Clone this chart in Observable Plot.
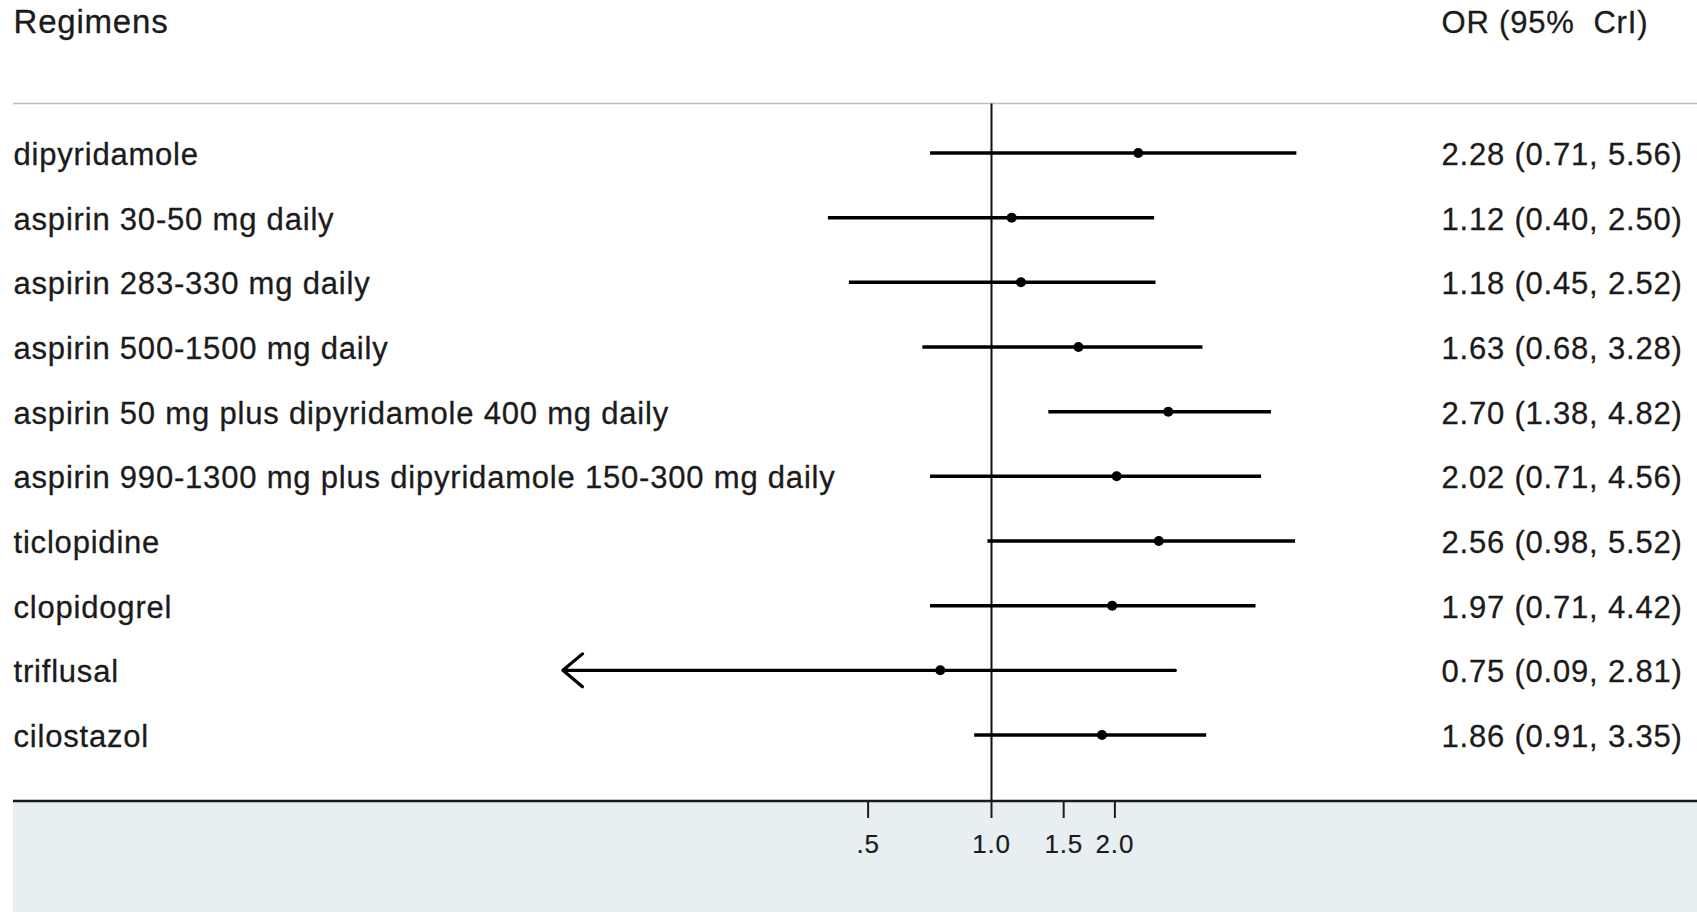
<!DOCTYPE html>
<html>
<head>
<meta charset="utf-8">
<script src="https://cdn.jsdelivr.net/npm/d3@7"></script>
<script src="https://cdn.jsdelivr.net/npm/@observablehq/plot@0.6"></script>
<style>
  html, body { margin: 0; padding: 0; background: #fff; overflow: hidden; }
  #chart svg { letter-spacing: 0.8px; font-family: "Liberation Sans", Arial, sans-serif !important; }
  #chart svg text { white-space: pre; font-family: "Liberation Sans", Arial, sans-serif !important; }
</style>
</head>
<body>
<div id="chart"></div>
<script>
// ---- data ----
const regimens = [
  "dipyridamole",
  "aspirin 30-50 mg daily",
  "aspirin 283-330 mg daily",
  "aspirin 500-1500 mg daily",
  "aspirin 50 mg plus dipyridamole 400 mg daily",
  "aspirin 990-1300 mg plus dipyridamole 150-300 mg daily",
  "ticlopidine",
  "clopidogrel",
  "triflusal",
  "cilostazol"
];
const oddsRatios = [2.28, 1.12, 1.18, 1.63, 2.70, 2.02, 2.56, 1.97, 0.75, 1.86];
const lowerCrI   = [0.71, 0.40, 0.45, 0.68, 1.38, 0.71, 0.98, 0.71, 0.09, 0.91];
const upperCrI   = [5.56, 2.50, 2.52, 3.28, 4.82, 4.56, 5.52, 4.42, 2.81, 3.35];
const tickValues = [0.5, 1, 1.5, 2];
const tickLabels = [".5", "1.0", "1.5", "2.0"];
const headerLeft = "Regimens";
const headerRight = "OR (95%  CrI)";
const clipLow = 0.1; // intervals reaching below this are drawn as arrows

const rows = regimens.map((name, i) => ({
  name, or: oddsRatios[i], lo: lowerCrI[i], hi: upperCrI[i]
}));
const ticks = tickValues.map((value, i) => ({value, label: tickLabels[i]}));
const fmt = v => v.toFixed(2);

// ---- layout ----
const W = 1697, H = 912;
const marginTop = 103.5, marginBottom = 111, marginLeft = 13, marginRight = 0;
const xOrigin = 991, pxPerLn = 178;
const xDomain = [0.05, 10];
const valueX = 1441;
const headerBaseline = 32.5;
const textColor = "#1b1b1b";
const textStyle = {fill: textColor, stroke: textColor, strokeWidth: 0.3};

function decorations(index, scales, values, dims) {
  const {width, height, marginLeft, marginTop, marginBottom} = dims;
  const axisY = height - marginBottom;
  const g = d3.create("svg:g");
  g.append("rect")
    .attr("x", marginLeft).attr("y", axisY)
    .attr("width", width - marginLeft).attr("height", marginBottom)
    .attr("fill", "#e8eff2");
  g.append("line")
    .attr("x1", marginLeft).attr("x2", width)
    .attr("y1", marginTop).attr("y2", marginTop)
    .attr("stroke", "#bdbdbd").attr("stroke-width", 1.5);
  g.append("line")
    .attr("x1", marginLeft).attr("x2", width)
    .attr("y1", axisY).attr("y2", axisY)
    .attr("stroke", textColor).attr("stroke-width", 2.5);
  return g.node();
}

const chart = Plot.plot({
  width: W, height: H,
  marginTop, marginBottom, marginLeft, marginRight,
  style: {color: textColor, background: "#fff"},
  x: {type: "log", domain: xDomain, range: xDomain.map(v => xOrigin + pxPerLn * Math.log(v)), axis: null},
  y: {type: "point", domain: regimens, range: [152.5, 734.5], padding: 0, round: false, axis: null},
  marks: [
    decorations,
    Plot.tickX(ticks, {x: "value", stroke: textColor, strokeWidth: 2, frameAnchor: "bottom", insetTop: 0}),
    Plot.ruleX([1], {stroke: "#111", strokeWidth: 2}),
    Plot.ruleY(rows.filter(d => d.lo >= clipLow), {y: "name", x1: "lo", x2: "hi", stroke: "#000", strokeWidth: 3.5}),
    Plot.arrow(rows.filter(d => d.lo < clipLow), {
      x1: "hi", x2: "lo", y1: "name", y2: "name",
      stroke: "#000", strokeWidth: 3.2, headLength: 12, headAngle: 80
    }),
    Plot.dot(rows, {x: "or", y: "name", r: 5, fill: "#000"}),
    Plot.text(rows, {y: "name", text: "name", frameAnchor: "left", textAnchor: "start", fontSize: 31, dy: 2, ...textStyle}),
    Plot.text(rows, {
      y: "name", text: d => `${fmt(d.or)} (${fmt(d.lo)}, ${fmt(d.hi)})`,
      frameAnchor: "left", textAnchor: "start", dx: valueX - marginLeft, fontSize: 31, dy: 2, ...textStyle
    }),
    Plot.text([headerLeft], {text: d => d, frameAnchor: "top-left", textAnchor: "start", lineAnchor: "bottom",
      dy: headerBaseline - marginTop, fontSize: 33, ...textStyle}),
    Plot.text([headerRight], {text: d => d, frameAnchor: "top-left", textAnchor: "start", lineAnchor: "bottom",
      dx: valueX - marginLeft, dy: headerBaseline - marginTop, fontSize: 31, ...textStyle}),
    Plot.text(ticks, {x: "value", text: "label", frameAnchor: "bottom", lineAnchor: "bottom",
      dy: 51, fontSize: 26, fill: textColor, stroke: textColor, strokeWidth: 0.2})
  ]
});
document.getElementById("chart").append(chart);

// tick marks: short segments hanging below the axis line
d3.select(chart).selectAll('g[aria-label="tick"] line')
  .attr("y1", H - marginBottom).attr("y2", H - marginBottom + 17);
d3.select(chart).selectAll('g[aria-label="text"]').filter((d, i) => i === 4)
  .style("letter-spacing", "0.8px");
</script>
</body>
</html>
